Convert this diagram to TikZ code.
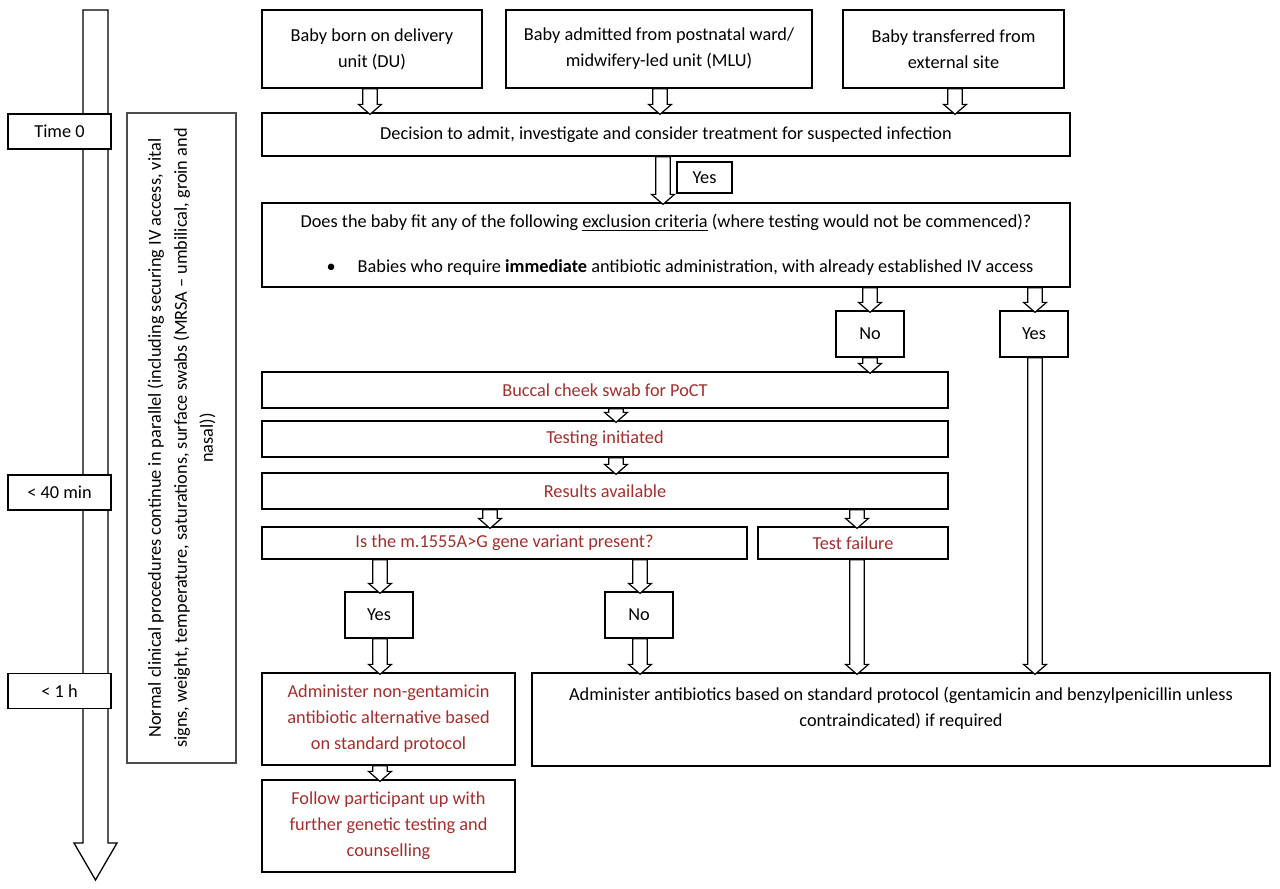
\documentclass[tikz,border=0pt]{standalone}
\usepackage{fontspec}
\setmainfont{Carlito}
\usetikzlibrary{calc}
\definecolor{darkred}{RGB}{160,48,48}
\tikzset{
  box/.style={draw=black, line width=0.65pt, fill=white, align=center, inner sep=2pt,
    font=\fontsize{9.15}{13}\selectfont},
  rbox/.style={box, text=darkred},
  tbox/.style={box, minimum width=51.5pt, minimum height=17.5pt},
  harrow/.style={draw=black, line width=0.6pt, fill=white, to path={
    let \p1=(\tikztostart), \p2=(\tikztotarget) in
    (\x1-3.6pt,\y1) -- (\x1-3.6pt,\y2+4pt) -- (\x1-5.75pt,\y2+4pt) -- (\x1,\y2-1pt)
    -- (\x1+5.75pt,\y2+4pt) -- (\x1+3.6pt,\y2+4pt) -- (\x1+3.6pt,\y1) -- cycle}}
}
\begin{document}
\begin{tikzpicture}[x=0.5pt,y=-0.5pt]
\useasboundingbox (0,0) rectangle (1280,889);

% timeline arrow
\draw[line width=0.65pt, fill=white] (83,10) -- (83,843) -- (74,843) -- (95.5,880) -- (117,843) -- (108,843) -- (108,10) -- cycle;
\node[tbox] (t0) at (59.5,131.5) {Time 0};
\node[tbox] (t40) at (59.5,492.5) {< 40 min};
\node[tbox] (t1h) at (59.5,691) {< 1 h};

% side box
\node[box, draw=black!70, rotate=90, minimum width=325pt, minimum height=54.5pt] (side) at (181.5,438)
  {Normal clinical procedures continue in parallel (including securing IV access, vital\\
   signs, weight, temperature, saturations, surface swabs (MRSA – umbilical, groin and\\
   nasal))};

% top boxes
\node[box, minimum width=110pt, minimum height=39pt] (du) at (372,49) {Baby born on delivery\\unit (DU)};
\node[box, minimum width=153pt, minimum height=39pt] (mlu) at (659,49) {Baby admitted from postnatal ward/\\midwifery-led unit (MLU)};
\node[box, minimum width=110.5pt, minimum height=39pt] (ext) at (953.5,49) {Baby transferred from\\external site};

\node[box, minimum width=404pt, minimum height=21.5pt] (dec) at (666,134.5)
  {Decision to admit, investigate and consider treatment for suspected infection};
\node[box, minimum width=27.5pt, minimum height=15.5pt] (yes1) at (704.5,177.5) {Yes};

\node[box, minimum width=404pt, minimum height=42pt] (excl) at (666,245)
  {Does the baby fit any of the following \underline{exclusion criteria} (where testing would not be commenced)?\\[9.5pt]
   \hspace*{14pt}\textbullet\hspace{11pt}Babies who require \textbf{immediate} antibiotic administration, with already established IV access};

\node[box, minimum width=34pt, minimum height=23pt] (no1) at (870,334) {No};
\node[box, minimum width=34pt, minimum height=23pt] (yes2) at (1034,334) {Yes};

\node[rbox, minimum width=343pt, minimum height=18pt] (buccal) at (605,390) {Buccal cheek swab for PoCT};
\node[rbox, minimum width=343pt, minimum height=18pt] (testing) at (605,439) {Testing initiated};
\node[rbox, minimum width=343pt, minimum height=18pt] (results) at (605,491) {Results available};

\node[rbox, minimum width=242.5pt, minimum height=16pt] (variant) at (504.5,543) {Is the m.1555A>G gene variant present?};
\node[rbox, minimum width=95pt, minimum height=16pt] (fail) at (853,543) {Test failure};

\node[box, minimum width=34pt, minimum height=23pt] (yes3) at (379,615) {Yes};
\node[box, minimum width=34pt, minimum height=23pt] (no3) at (639,615) {No};

\node[rbox, minimum width=126.5pt, minimum height=46pt] (nongent) at (388.5,719)
  {Administer non-gentamicin\\antibiotic alternative based\\on standard protocol};
\node[box, minimum width=369pt, minimum height=46.5pt] (std) at (901,719.5)
  {Administer antibiotics based on standard protocol (gentamicin and benzylpenicillin unless\\contraindicated) if required\\\mbox{}};
\node[rbox, minimum width=126.5pt, minimum height=46pt] (follow) at (388.5,826)
  {Follow participant up with\\further genetic testing and\\counselling};

% arrow columns
\coordinate (c370) at (370,0);
\coordinate (c660) at (660,0);
\coordinate (c955) at (955,0);
\coordinate (c663) at (663,0);
\coordinate (c870) at (870,0);
\coordinate (c1035) at (1035,0);
\coordinate (c616) at (616,0);
\coordinate (c490) at (490,0);
\coordinate (c857) at (857,0);
\coordinate (c380) at (380,0);
\coordinate (c640) at (640,0);

% connectors
\path[harrow] (du.south -| c370) to (dec.north -| c370);
\path[harrow] (mlu.south -| c660) to (dec.north -| c660);
\path[harrow] (ext.south -| c955) to (dec.north -| c955);
\path[harrow] (dec.south -| c663) to (excl.north -| c663);
\path[harrow] (excl.south -| c870) to (no1.north -| c870);
\path[harrow] (excl.south -| c1035) to (yes2.north -| c1035);
\path[harrow] (no1.south -| c870) to (buccal.north -| c870);
\path[harrow] (yes2.south -| c1035) to (std.north -| c1035);
\path[harrow] (buccal.south -| c616) to (testing.north -| c616);
\path[harrow] (testing.south -| c616) to (results.north -| c616);
\path[harrow] (results.south -| c490) to (variant.north -| c490);
\path[harrow] (results.south -| c857) to (fail.north -| c857);
\path[harrow] (variant.south -| c380) to (yes3.north -| c380);
\path[harrow] (variant.south -| c640) to (no3.north -| c640);
\path[harrow] (yes3.south -| c380) to (nongent.north -| c380);
\path[harrow] (no3.south -| c640) to (std.north -| c640);
\path[harrow] (fail.south -| c857) to (std.north -| c857);
\path[harrow] (nongent.south -| c380) to (follow.north -| c380);
\end{tikzpicture}
\end{document}
